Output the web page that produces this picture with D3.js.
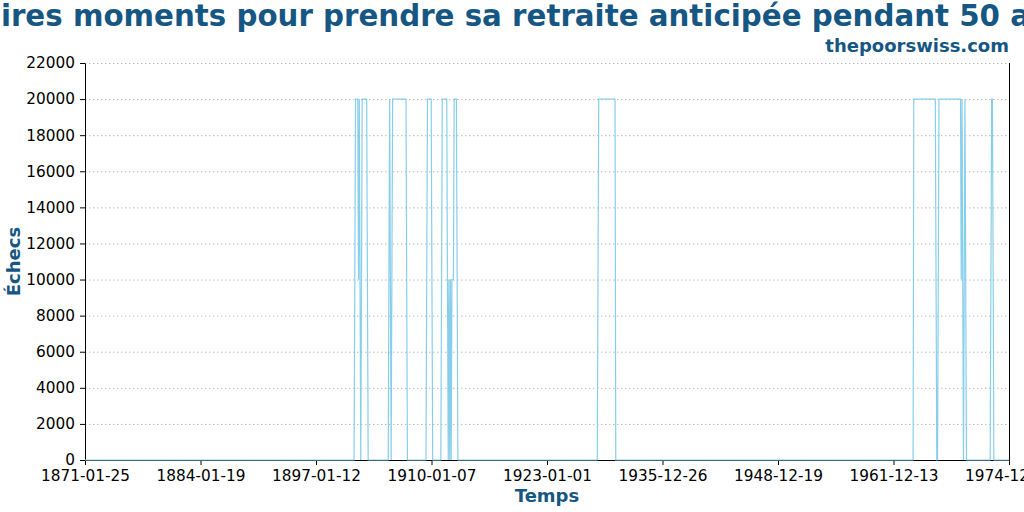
<!DOCTYPE html>
<html>
<head>
<meta charset="utf-8">
<script src="https://cdn.jsdelivr.net/npm/d3@7/dist/d3.min.js"></script>
<style>
  html, body { margin: 0; padding: 0; background: #fff; }
  svg { display: block; font-family: "DejaVu Sans", sans-serif; }
</style>
</head>
<body>
<svg id="chart" width="1024" height="512"></svg>
<script>
// ---- Data ----
const titleText = "Les pires moments pour prendre sa retraite anticipée pendant 50 ans";
const sourceText = "thepoorswiss.com";
const xLabel = "Temps";
const yLabel = "Échecs";

const dates = [
  "1871-01-25",
  "1901-04-25","1901-05-25","1901-06-25","1901-09-25","1901-10-25","1901-11-25","1901-12-25",
  "1902-01-25","1902-02-25","1902-03-25","1902-09-25","1902-10-25","1902-11-25",
  "1905-02-25","1905-03-25","1905-04-25","1905-05-25","1905-06-25","1905-07-25","1905-08-25",
  "1907-02-25","1907-03-25","1907-04-25",
  "1909-05-25","1909-06-25","1909-07-25","1909-12-25","1910-01-25","1910-02-25",
  "1911-01-25","1911-02-25","1911-03-25","1911-09-25","1911-10-25","1911-11-25","1911-12-25",
  "1912-01-25","1912-02-25","1912-03-25","1912-04-25","1912-06-25","1912-07-25","1912-10-25","1912-11-25","1912-12-25",
  "1928-08-25","1928-09-25","1928-10-25","1930-08-25","1930-09-25",
  "1964-02-25","1964-03-25","1966-08-25","1966-09-25","1966-10-25","1966-11-25","1966-12-25","1967-01-25",
  "1969-06-25","1969-07-25","1969-08-25","1969-09-25","1969-10-25","1969-11-25","1969-12-25","1970-01-25","1970-02-25",
  "1972-10-25","1972-11-25","1972-12-25","1973-01-25","1973-02-25","1973-03-25",
  "1974-12-07"
];
const failures = [
  0,
  0,10000,20000,20000,10000,20000,10000,
  0,10000,20000,20000,10000,0,
  0,10000,20000,10000,0,10000,20000,
  20000,10000,0,
  0,10000,20000,20000,10000,0,
  0,10000,20000,20000,10000,0,10000,
  0,10000,0,10000,10000,20000,20000,10000,0,
  0,10000,20000,20000,0,
  0,20000,20000,10000,0,0,10000,20000,
  20000,10000,20000,10000,0,10000,20000,10000,0,
  0,10000,20000,20000,10000,0,
  0
];

const xTickLabels = ["1871-01-25","1884-01-19","1897-01-12","1910-01-07","1923-01-01",
                     "1935-12-26","1948-12-19","1961-12-13","1974-12-07"];
const yTickValues = [0,2000,4000,6000,8000,10000,12000,14000,16000,18000,20000,22000];

// ---- Layout ----
const svg = d3.select("#chart");
const W = 1024, H = 512;
const margin = {left: 85, right: 15, top: 63, bottom: 52};
const plotW = W - margin.left - margin.right;   // 924
const plotH = H - margin.top - margin.bottom;   // 397
const titleColor = "#165683";
const lineColor = "#87ceeb";

const parse = d3.timeParse("%Y-%m-%d");
const series = dates.map((d, i) => ({date: parse(d), value: failures[i]}));
const xTicks = xTickLabels.map(parse);

const x = d3.scaleTime()
  .domain([xTicks[0], xTicks[xTicks.length - 1]])
  .range([margin.left, margin.left + plotW]);
const y = d3.scaleLinear()
  .domain([0, 22000])
  .range([margin.top + plotH, margin.top]);

// Grid lines
svg.append("g")
  .selectAll("line")
  .data(yTickValues.filter(v => v > 0))
  .join("line")
  .attr("x1", margin.left).attr("x2", margin.left + plotW)
  .attr("y1", d => y(d) + 0.5).attr("y2", d => y(d) + 0.5)
  .attr("stroke", "#b8b8b8")
  .attr("stroke-width", 1)
  .attr("stroke-dasharray", "1.4,2.6");

// Axes
const xAxis = d3.axisBottom(x)
  .tickValues(xTicks)
  .tickFormat((d, i) => xTickLabels[i])
  .tickSizeInner(5).tickSizeOuter(0).tickPadding(5);
const gx = svg.append("g")
  .attr("transform", `translate(0,${margin.top + plotH})`)
  .call(xAxis);

const yAxis = d3.axisLeft(y)
  .tickValues(yTickValues)
  .tickFormat(d3.format("d"))
  .tickSizeInner(5).tickSizeOuter(0).tickPadding(5);
const gy = svg.append("g")
  .attr("transform", `translate(${margin.left},0)`)
  .call(yAxis);

[gx, gy].forEach(g => {
  g.selectAll("text").attr("font-size", "15.3px").attr("fill", "#000")
    .attr("font-family", "DejaVu Sans, sans-serif");
  g.selectAll("line").attr("stroke", "#000");
  g.select(".domain").attr("stroke", "#000");
});

// Right spine
svg.append("line")
  .attr("x1", margin.left + plotW + 0.5).attr("x2", margin.left + plotW + 0.5)
  .attr("y1", margin.top).attr("y2", margin.top + plotH)
  .attr("stroke", "#000").attr("stroke-width", 1);

// Line series
const line = d3.line()
  .x(d => x(d.date))
  .y(d => y(d.value));
svg.append("path")
  .datum(series)
  .attr("fill", "none")
  .attr("stroke", lineColor)
  .attr("stroke-width", 1.2)
  .attr("stroke-linejoin", "miter")
  .attr("d", line);

// Title and texts
svg.append("text")
  .attr("x", 491).attr("y", 26)
  .attr("text-anchor", "middle")
  .attr("font-size", "29.3px").attr("font-weight", "bold")
  .attr("fill", titleColor)
  .text(titleText);

svg.append("text")
  .attr("x", 1009).attr("y", 52)
  .attr("text-anchor", "end")
  .attr("font-size", "18px").attr("font-weight", "bold")
  .attr("fill", titleColor)
  .text(sourceText);

svg.append("text")
  .attr("x", margin.left + plotW / 2).attr("y", 502)
  .attr("text-anchor", "middle")
  .attr("font-size", "18px").attr("font-weight", "bold")
  .attr("fill", titleColor)
  .text(xLabel);

svg.append("text")
  .attr("transform", `translate(20,${margin.top + plotH / 2}) rotate(-90)`)
  .attr("text-anchor", "middle")
  .attr("font-size", "18px").attr("font-weight", "bold")
  .attr("fill", titleColor)
  .text(yLabel);
</script>
</body>
</html>
